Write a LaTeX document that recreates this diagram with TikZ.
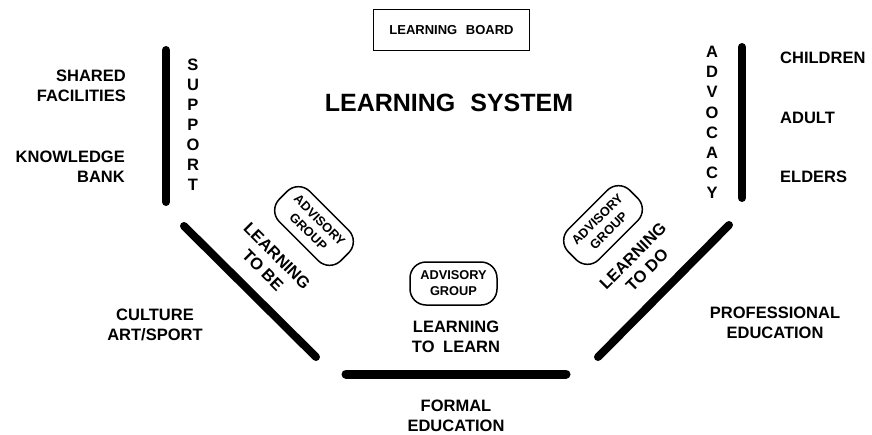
\documentclass[tikz,border=0pt]{standalone}
\usepackage{fontspec}
\setmainfont{Liberation Sans}
\usetikzlibrary{positioning}

\begin{document}
\begin{tikzpicture}[
    x=1pt, y=-1pt,
    every node/.style={font=\fontsize{16.5}{20}\selectfont\bfseries, inner sep=0pt},
    bar/.style={line width=8pt, line cap=round},
    tag/.style={align=center},
    advisory/.style={draw, line width=1.5pt, rounded corners=16pt,
                     minimum width=87pt, minimum height=43pt, align=center,
                     font=\fontsize{12.8}{16}\selectfont\bfseries},
]
\useasboundingbox (0,0) rectangle (872,434);

% --- Title and board ---
\node[draw, line width=1.8pt, minimum width=156pt, minimum height=41pt,
      font=\fontsize{13}{16}\selectfont\bfseries]
     (board) at (451.5,30) {LEARNING\hspace{5pt} BOARD};
\node[font=\fontsize{25}{30}\selectfont\bfseries]
     (system) at (449,103) {LEARNING\hspace{8pt} SYSTEM};

% --- Support side (left) ---
\draw[bar] (166,50) -- (166,202);
\foreach \l [count=\i from 0] in {S,U,P,P,O,R,T}{
  \node (sup\i) at (193,65+20*\i) {\l};
}
\node[align=right, anchor=east] (shared) at (126,86) {SHARED\\FACILITIES};
\node[align=right, anchor=east] (bank) at (125,167) {KNOWLEDGE\\BANK};

% --- Advocacy side (right) ---
\draw[bar] (742,47) -- (742,198);
\foreach \l [count=\i from 0] in {A,D,V,O,C,A,C,Y}{
  \node (adv\i) at (712,52+20.15*\i) {\l};
}
\node[anchor=west] (children) at (780,58) {CHILDREN};
\node[anchor=west] (adult) at (780,118) {ADULT};
\node[anchor=west] (elders) at (780,177) {ELDERS};

% --- The three lower sides ---
\draw[bar] (184,226) -- (316,357);
\draw[bar] (729,225) -- (598,357);
\draw[bar, line width=9pt] (346,374) -- (566,374);

% --- Learning to be ---
\node[advisory, rotate=-45] (advbe) at (314,226) {ADVISORY\\GROUP};
\node[tag, rotate=-45] (tobe) at (270,263) {LEARNING\\TO BE};
\node[tag] (culture) at (155,325) {CULTURE\\ART/SPORT};

% --- Learning to learn ---
\node[advisory] (advlearn) at (453.5,283.5) {ADVISORY\\GROUP};
\node[tag] (tolearn) at (456,337) {LEARNING\\TO\hspace{4pt} LEARN};
\node[tag] (formal) at (456,416) {FORMAL\\EDUCATION};

% --- Learning to do ---
\node[advisory, rotate=45] (advdo) at (603,225) {ADVISORY\\GROUP};
\node[tag, rotate=45] (todo) at (640,263) {LEARNING\\TO DO};
\node[tag] (professional) at (775,323) {PROFESSIONAL\\EDUCATION};

\end{tikzpicture}
\end{document}
